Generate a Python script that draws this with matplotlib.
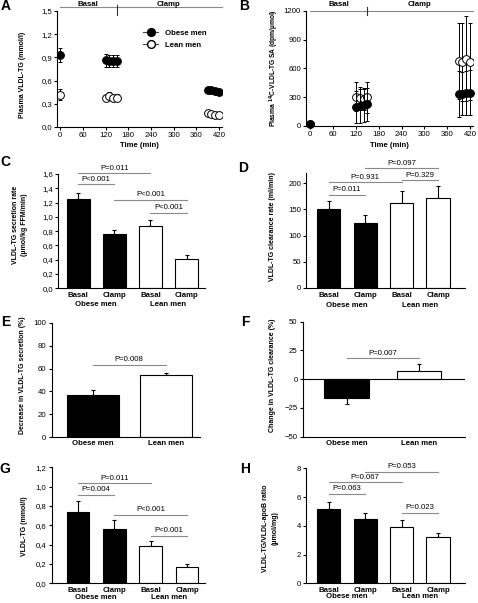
import matplotlib
matplotlib.use('Agg')
import matplotlib.pyplot as plt
from matplotlib.lines import Line2D
from matplotlib.ticker import FuncFormatter
import matplotlib.transforms as mtransforms

# ---------------- data ----------------
time_min = [0, 120, 130, 140, 150, 390, 400, 410, 420]
a_obese = [0.93, 0.86, 0.85, 0.85, 0.85, 0.48, 0.48, 0.47, 0.45]
a_obese_err = [0.09, 0.08, 0.08, 0.08, 0.08, 0.02, 0.02, 0.02, 0.02]
a_lean = [0.42, 0.37, 0.40, 0.38, 0.38, 0.18, 0.17, 0.15, 0.16]
a_lean_err = [0.07, 0.04, 0.05, 0.04, 0.05, 0.02, 0.02, 0.02, 0.02]

b_obese = [25, 195, 205, 215, 225, 330, 335, 340, 345]
b_obese_err = [0, 165, 175, 170, 170, 240, 225, 230, 235]
b_lean = [25, 305, 290, 280, 300, 676, 665, 700, 670]
b_lean_err = [0, 150, 120, 115, 160, 395, 410, 445, 400]

series_names = ['Obese men', 'Lean men']
phase_names = ['Basal', 'Clamp']
bar_labels = ['Basal', 'Clamp', 'Basal', 'Clamp']
groups = ['Obese men', 'Lean men']

c_vals = [1.25, 0.76, 0.87, 0.41]
c_err = [0.09, 0.06, 0.09, 0.05]
c_pairs = [(0, 1), (0, 2), (1, 3), (2, 3)]
c_ptext = ['P<0.001', 'P=0.011', 'P<0.001', 'P<0.001']

d_vals = [150, 124, 162, 171]
d_err = [16, 15, 23, 23]
d_pairs = [(0, 1), (0, 2), (2, 3), (1, 3)]
d_ptext = ['P=0.011', 'P=0.931', 'P=0.329', 'P=0.097']

e_vals = [37, 54]
e_err = [4.5, 2.5]
e_ptext = ['P=0.008']

f_vals = [-16, 7]
f_err = [6, 6]
f_ptext = ['P=0.007']

g_vals = [0.74, 0.56, 0.39, 0.17]
g_err = [0.11, 0.09, 0.05, 0.03]
g_pairs = [(0, 1), (0, 2), (1, 3), (2, 3)]
g_ptext = ['P=0.004', 'P=0.011', 'P<0.001', 'P<0.001']

h_vals = [5.2, 4.45, 3.95, 3.22]
h_err = [0.45, 0.45, 0.45, 0.3]
h_pairs = [(0, 1), (0, 2), (1, 3), (2, 3)]
h_ptext = ['P=0.063', 'P=0.067', 'P=0.053', 'P=0.023']

# ---------------- layout / style ----------------
W, H, DPI = 478, 603, 100
plt.rcParams['font.family'] = ['Liberation Sans', 'DejaVu Sans']
FS = 5.6
YFS = 5.0
SIG = '#8a8a8a'
LW = 0.8

fig = plt.figure(figsize=(W / DPI, H / DPI), dpi=DPI)


def add_ax(l, t, r, b):
    ax = fig.add_axes([l / W, 1 - b / H, (r - l) / W, (b - t) / H])
    for s in ['top', 'right']:
        ax.spines[s].set_visible(False)
    for s in ['left', 'bottom']:
        ax.spines[s].set_linewidth(LW)
    ax.tick_params(axis='y', direction='out', length=2.0, width=LW, labelsize=FS, pad=1.8)
    ax.tick_params(axis='x', direction='out', length=2.0, width=LW, labelsize=FS, pad=1.8)
    return ax


def comma_fmt(v, pos):
    return ('%.1f' % v).replace('.', ',')


def px_text(x, y, s, **kw):
    fig.text(x / W, 1 - y / H, s, **kw)


def letter(x, y, s):
    px_text(x, y, s, fontsize=10, fontweight='bold', ha='center', va='center')


def ylab(x, y, s, size=YFS):
    px_text(x, y, s, fontsize=size, fontweight='bold', rotation=90,
            ha='center', va='center', linespacing=1.5)


def time_axis(ax, label_y_frac, phase_x, line_frac, label_frac, tick_frac):
    ax.set_xticks(range(0, 421, 60))
    ax.text(0.5, label_y_frac, 'Time (min)', transform=ax.transAxes,
            fontsize=FS, fontweight='bold', ha='center', va='center')
    tr = mtransforms.blended_transform_factory(ax.transData, ax.transAxes)
    x0, x1 = 0, ax.get_xlim()[1]
    ax.plot([x0, x1], [line_frac, line_frac], transform=tr, color=SIG, lw=LW, clip_on=False)
    ax.plot([150, 150], tick_frac, transform=tr, color='#333333', lw=LW, clip_on=False)
    for name, xx in zip(phase_names, phase_x):
        ax.text(xx, label_frac, name, transform=tr, fontsize=FS,
                fontweight='bold', ha='center', va='center')


def bar_panel(ax, vals, errs, colors, width):
    xs = list(range(len(vals)))
    ax.bar(xs, vals, width=width, color=colors, edgecolor='black', linewidth=LW, zorder=2)
    lower = [e if v < 0 else 0 for v, e in zip(vals, errs)]
    upper = [0 if v < 0 else e for v, e in zip(vals, errs)]
    ax.errorbar(xs, vals, yerr=[lower, upper], fmt='none', ecolor='black',
                elinewidth=LW, capsize=1.6, capthick=LW, zorder=1)
    return xs


def sig(ax, pairs, texts, heights):
    for (i, j), t, h in zip(pairs, texts, heights):
        ax.plot([i, j], [h, h], color=SIG, lw=LW, clip_on=False, zorder=3)
        ax.annotate(t, xy=((i + j) / 2, h), xytext=(0, 1.2), textcoords='offset points',
                    ha='center', va='bottom', fontsize=FS, annotation_clip=False)


def cat_labels(ax, xs, labels, yfrac):
    tr = mtransforms.blended_transform_factory(ax.transData, ax.transAxes)
    for x, s in zip(xs, labels):
        ax.text(x, yfrac, s, transform=tr, fontsize=FS, fontweight='bold',
                ha='center', va='center')


# ---------------- Panel A ----------------
axA = add_ax(57.3, 11, 221.7, 127)
axA.set_xlim(-7.9, 427)
axA.set_ylim(0, 1.5)
axA.set_yticks([0, 0.3, 0.6, 0.9, 1.2, 1.5])
axA.yaxis.set_major_formatter(FuncFormatter(comma_fmt))
axA.errorbar(time_min, a_obese, yerr=a_obese_err, fmt='o', ms=5.6, mfc='black', mec='black',
             mew=0.7, ecolor='black', elinewidth=0.7, capsize=1.5, capthick=0.7)
axA.errorbar(time_min, a_lean, yerr=a_lean_err, fmt='o', ms=5.6, mfc='white', mec='black',
             mew=0.7, ecolor='black', elinewidth=0.7, capsize=1.5, capthick=0.7)
time_axis(axA, -0.16, [74, 286], 1.032, 1.058, [0.966, 1.052])
handles = [Line2D([], [], color='#444444', lw=LW, marker='o', ms=5.6, mfc='black', mec='black'),
           Line2D([], [], color='#444444', lw=LW, marker='o', ms=5.6, mfc='white', mec='black')]
axA.legend(handles, series_names, loc='upper left', bbox_to_anchor=(0.52, 0.84), frameon=False,
           prop={'weight': 'bold', 'size': FS}, handlelength=2.0,
           handletextpad=0.8, borderpad=0, borderaxespad=0, labelspacing=0.55)
letter(5.5, 6, 'A')
ylab(23, 75, 'Plasma VLDL-TG (mmol/l)')

# ---------------- Panel B ----------------
axB = add_ax(306.3, 10.7, 473, 126)
axB.set_xlim(-10.5, 428)
axB.set_ylim(0, 1200)
axB.set_yticks([0, 300, 600, 900, 1200])
axB.errorbar(time_min, b_lean, yerr=b_lean_err, fmt='o', ms=5.6, mfc='white', mec='black',
             mew=0.7, ecolor='black', elinewidth=0.7, capsize=1.5, capthick=0.7, zorder=2)
axB.errorbar(time_min, b_obese, yerr=b_obese_err, fmt='o', ms=5.6, mfc='black', mec='black',
             mew=0.7, ecolor='black', elinewidth=0.7, capsize=1.5, capthick=0.7, zorder=3,
             clip_on=False)
time_axis(axB, -0.17, [75, 287], 1.0, 1.05, [0.963, 1.03])
letter(244.5, 6.5, 'B')
ylab(274, 68, 'Plasma $^{\\mathbf{14}}$C-VLDL-TG SA (dpm/µmol)', size=4.8)

# ---------------- Panel C ----------------
axC = add_ax(58.3, 174, 205, 288.3)
axC.set_xlim(-0.55, 3.51)
axC.set_ylim(0, 1.6)
axC.set_yticks([0, 0.2, 0.4, 0.6, 0.8, 1.0, 1.2, 1.4, 1.6])
axC.yaxis.set_major_formatter(FuncFormatter(comma_fmt))
xs = bar_panel(axC, c_vals, c_err, ['black', 'black', 'white', 'white'], 0.645)
axC.set_xticks([])
sig(axC, c_pairs, c_ptext, [1.455, 1.61, 1.24, 1.06])
cat_labels(axC, xs, bar_labels, -0.065)
cat_labels(axC, [0.5, 2.5], groups, -0.142)
letter(5.5, 162, 'C')
ylab(20, 225, 'VLDL-TG secretion rate\n(µmol/kg FFM/min)')

# ---------------- Panel D ----------------
axD = add_ax(306.3, 172.9, 464.7, 287.7)
axD.set_xlim(-0.615, 3.73)
axD.set_ylim(0, 220)
axD.set_yticks([0, 50, 100, 150, 200])
xs = bar_panel(axD, d_vals, d_err, ['black', 'black', 'white', 'white'], 0.64)
axD.set_xticks([])
sig(axD, d_pairs, d_ptext, [177.6, 202, 206, 229])
cat_labels(axD, xs, bar_labels, -0.07)
cat_labels(axD, [0.5, 2.5], groups, -0.151)
letter(243.5, 168.5, 'D')
ylab(272, 226, 'VLDL-TG clearance rate (ml/min)')

# ---------------- Panel E ----------------
axE = add_ax(51.7, 322.7, 200, 437.3)
axE.set_xlim(-0.56, 1.47)
axE.set_ylim(0, 100)
axE.set_yticks([0, 20, 40, 60, 80, 100])
xs = bar_panel(axE, e_vals, e_err, ['black', 'white'], 0.71)
axE.set_xticks([])
sig(axE, [(0, 1)], e_ptext, [63])
cat_labels(axE, xs, groups, -0.058)
letter(5.5, 321.5, 'E')
ylab(23, 375, 'Decrease in VLDL-TG secretion (%)')

# ---------------- Panel F ----------------
axF = add_ax(303, 321.7, 464.7, 436.7)
axF.set_xlim(-0.6, 1.63)
axF.set_ylim(-50, 50)
axF.set_yticks([-50, -25, 0, 25, 50])
xs = bar_panel(axF, f_vals, f_err, ['black', 'white'], 0.61)
axF.axhline(0, color='black', lw=LW, zorder=3)
axF.set_xticks([])
sig(axF, [(0, 1)], f_ptext, [18])
cat_labels(axF, xs, groups, -0.063)
letter(245.5, 321.5, 'F')
ylab(273, 375, 'Change in VLDL-TG clearance (%)')

# ---------------- Panel G ----------------
axG = add_ax(51.7, 467.3, 205, 583.3)
axG.set_xlim(-0.72, 3.49)
axG.set_ylim(0, 1.2)
axG.set_yticks([0, 0.2, 0.4, 0.6, 0.8, 1.0, 1.2])
axG.yaxis.set_major_formatter(FuncFormatter(comma_fmt))
xs = bar_panel(axG, g_vals, g_err, ['black', 'black', 'white', 'white'], 0.62)
axG.set_xticks([])
sig(axG, g_pairs, g_ptext, [0.914, 1.034, 0.707, 0.49])
cat_labels(axG, xs, bar_labels, -0.064)
cat_labels(axG, [0.5, 2.5], groups, -0.121)
letter(4.5, 468.6, 'G')
ylab(25, 526, 'VLDL-TG (mmol/l)')

# ---------------- Panel H ----------------
axH = add_ax(306.3, 468.3, 464.7, 583.3)
axH.set_xlim(-0.615, 3.73)
axH.set_ylim(0, 8)
axH.set_yticks([0, 2, 4, 6, 8])
xs = bar_panel(axH, h_vals, h_err, ['black', 'black', 'white', 'white'], 0.64)
axH.set_xticks([])
sig(axH, h_pairs, h_ptext, [6.21, 7.03, 7.77, 4.92])
cat_labels(axH, xs, bar_labels, -0.064)
cat_labels(axH, [0.5, 2.5], groups, -0.117)
letter(245, 468.6, 'H')
ylab(270, 528, 'VLDL-TG/VLDL-apoB ratio\n(µmol/mg)')

fig.savefig('out.png', dpi=DPI)
